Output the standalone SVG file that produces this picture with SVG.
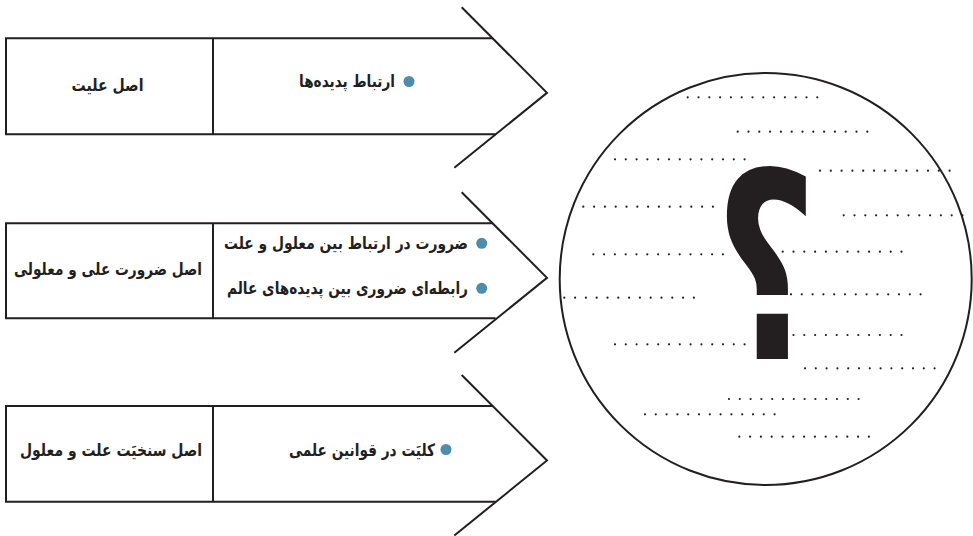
<svg xmlns="http://www.w3.org/2000/svg" width="973" height="536" viewBox="0 0 973 536">
<style>
.ln{stroke:#231f20;stroke-width:2;fill:none;stroke-linecap:butt}
.t{font-family:"DejaVu Sans",sans-serif;font-weight:bold;font-size:17px;fill:#231f20}
.dot{fill:#4b8daa}
.dl{stroke:#231f20;stroke-width:2.2;stroke-linecap:round;stroke-dasharray:0 10.8;fill:none}
</style>
<rect width="973" height="536" fill="#ffffff"/>
<g id="connectors">
<polyline class="ln" points="461.7,7.3 547,92.8 454.3,167.8"/>
<polyline class="ln" points="461.7,192.3 547,277.8 454.3,352.8"/>
<polyline class="ln" points="461.7,375 547,460.5 454.3,535.5"/>
</g>
<g id="arrow1">
<polyline class="ln" points="493,38.3 6,38.3 6,134.3 495.5,134.3"/>
<line class="ln" x1="213" y1="38.3" x2="213" y2="134.3"/>
<text class="t" x="107.5" y="91" text-anchor="middle" textLength="72" lengthAdjust="spacingAndGlyphs">اصل علیت</text>
<circle class="dot" cx="409" cy="81.5" r="5.5"/>
<text class="t" x="395" y="87" text-anchor="end" textLength="96" lengthAdjust="spacingAndGlyphs">ارتباط پدیده‌ها</text>
</g>
<g id="arrow2">
<polyline class="ln" points="493,223.3 6,223.3 6,318.3 495.5,318.3"/>
<line class="ln" x1="213" y1="223.3" x2="213" y2="318.3"/>
<text class="t" x="108" y="275" text-anchor="middle" textLength="188" lengthAdjust="spacingAndGlyphs">اصل ضرورت علی و معلولی</text>
<circle class="dot" cx="481.7" cy="243.3" r="5.5"/>
<text class="t" x="468" y="249" text-anchor="end" textLength="244" lengthAdjust="spacingAndGlyphs">ضرورت در ارتباط بین معلول و علت</text>
<circle class="dot" cx="481.7" cy="288.3" r="5.5"/>
<text class="t" x="468" y="294" text-anchor="end" textLength="241" lengthAdjust="spacingAndGlyphs">رابطه‌ای ضروری بین پدیده‌های عالم</text>
</g>
<g id="arrow3">
<polyline class="ln" points="493,406 6,406 6,501.7 495.5,501.7"/>
<line class="ln" x1="213" y1="406" x2="213" y2="501.7"/>
<text class="t" x="111" y="456" text-anchor="middle" textLength="182" lengthAdjust="spacingAndGlyphs">اصل سنخیَت علت و معلول</text>
<circle class="dot" cx="446" cy="449.5" r="5.5"/>
<text class="t" x="435" y="456" text-anchor="end" textLength="146" lengthAdjust="spacingAndGlyphs">کلیَت در قوانین علمی</text>
</g>
<g id="circle">
<circle cx="765.7" cy="279" r="206" fill="none" stroke="#231f20" stroke-width="2"/>
<g>
<line class="dl" x1="687.7" y1="97.3" x2="818.3" y2="97.3"/>
<line class="dl" x1="737.7" y1="131.7" x2="868" y2="131.7"/>
<line class="dl" x1="615" y1="159.3" x2="745" y2="159.3"/>
<line class="dl" x1="820" y1="170.7" x2="950" y2="170.7"/>
<line class="dl" x1="583.3" y1="206.7" x2="713" y2="206.7"/>
<line class="dl" x1="843.7" y1="215.3" x2="973" y2="215.3"/>
<line class="dl" x1="593.3" y1="254.3" x2="723" y2="254.3"/>
<line class="dl" x1="782.7" y1="251.7" x2="912" y2="251.7"/>
<line class="dl" x1="564.3" y1="297.7" x2="694" y2="297.7"/>
<line class="dl" x1="791" y1="294.3" x2="921" y2="294.3"/>
<line class="dl" x1="615" y1="344.3" x2="745" y2="344.3"/>
<line class="dl" x1="782.7" y1="335" x2="912" y2="335"/>
<line class="dl" x1="805" y1="368.3" x2="935" y2="368.3"/>
<line class="dl" x1="729" y1="399" x2="859" y2="399"/>
<line class="dl" x1="645" y1="414.3" x2="775" y2="414.3"/>
<line class="dl" x1="739.3" y1="436.7" x2="869" y2="436.7"/>
</g>
<text x="766" y="359" text-anchor="middle" font-family="DejaVu Sans, sans-serif" font-weight="bold" font-size="260" fill="#231f20" transform="translate(766 0) scale(0.68 1) translate(-766 0)">؟</text>
</g>
</svg>
